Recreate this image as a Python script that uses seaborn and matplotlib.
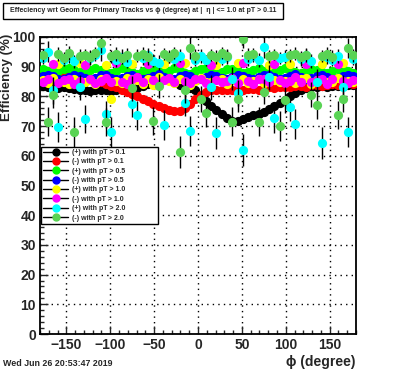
import numpy as np
import pandas as pd
import seaborn as sns
import matplotlib.pyplot as plt
from matplotlib.lines import Line2D
from matplotlib.patches import Rectangle
from matplotlib.ticker import MultipleLocator

# bin centres in phi (degree)
phi = list(range(-177, 180, 6))

labels = ['(+) with pT > 0.1', '(-) with pT > 0.1', '(+) with pT > 0.5', '(-) with pT > 0.5',
          '(+) with pT > 1.0', '(-) with pT > 1.0', '(+) with pT > 2.0', '(-) with pT > 2.0']
colors = ['#000000', '#ff0000', '#00ff00', '#0000ff', '#ffff00', '#ff00ff', '#00ffff', '#59d354']

eff_pos_01 = [83.5, 83.2, 83.0, 82.8, 83.1, 82.9, 82.5, 82.2, 82.0, 81.8,
              82.0, 82.3, 82.1, 81.8, 82.0, 82.4, 82.8, 82.5, 82.9, 83.5,
              84.3, 85.0, 85.8, 86.3, 86.0, 85.2, 84.0, 83.3, 82.8, 82.0,
              80.0, 78.3, 76.8, 75.4, 74.0, 72.8, 71.8, 71.6, 72.3, 73.0,
              73.6, 74.2, 74.8, 75.6, 76.6, 77.8, 78.8, 80.0, 81.3, 82.3,
              82.8, 83.0, 83.2, 83.4, 83.3, 83.5, 83.6, 83.4, 83.7, 83.8]
eff_neg_01 = [85.8, 86.0, 86.3, 86.8, 87.0, 87.2, 87.0, 86.8, 86.5, 86.0,
              85.5, 84.9, 84.3, 83.6, 83.0, 82.3, 81.6, 80.8, 80.0, 79.2,
              78.3, 77.5, 76.8, 76.1, 75.5, 75.0, 75.2, 76.0, 77.5, 79.2,
              80.6, 81.5, 82.0, 82.1, 82.2, 82.0, 82.3, 82.5, 82.2, 82.4,
              82.6, 82.3, 82.8, 83.0, 82.7, 83.1, 83.3, 83.0, 83.4, 83.6,
              83.3, 83.7, 83.9, 83.6, 84.0, 84.2, 84.0, 84.3, 84.5, 84.3]
eff_pos_05 = [89.2, 88.7, 88.0, 88.4, 89.3, 89.6, 88.9, 88.1, 87.9, 88.8,
              89.5, 89.0, 88.2, 87.8, 88.6, 89.4, 89.1, 88.3, 87.7, 88.5,
              89.3, 89.2, 88.4, 87.9, 88.7, 89.5, 88.8, 88.0, 87.6, 88.4,
              89.2, 89.4, 88.6, 87.9, 88.3, 89.1, 89.3, 88.5, 87.8, 88.2,
              89.0, 89.5, 88.7, 88.0, 88.1, 88.9, 89.4, 88.8, 88.1, 87.9,
              88.7, 89.3, 89.0, 88.2, 87.8, 88.6, 89.2, 89.1, 88.4, 88.0]
eff_neg_05 = [86.8, 87.3, 86.9, 86.0, 85.7, 86.4, 87.2, 87.0, 86.1, 85.6,
              86.3, 87.1, 87.2, 86.3, 85.8, 86.2, 87.0, 87.3, 86.5, 85.9,
              86.1, 86.9, 87.4, 86.7, 85.9, 86.0, 86.8, 87.3, 86.8, 86.0,
              85.8, 86.6, 87.2, 86.9, 86.1, 85.7, 86.5, 87.3, 87.0, 86.2,
              85.8, 86.4, 87.1, 87.2, 86.4, 85.9, 86.3, 87.0, 87.4, 86.6,
              85.9, 86.2, 86.9, 87.3, 86.7, 86.0, 86.1, 86.8, 87.2, 86.9]
eff_pos_10 = [85.4, 84.6, 86.2, 90.8, 85.0, 84.3, 85.8, 91.2, 84.9, 85.6,
              84.1, 86.0, 90.6, 79.0, 85.2, 84.4, 86.3, 91.0, 85.5, 84.2,
              85.9, 83.8, 86.4, 90.9, 85.1, 84.5, 85.7, 91.3, 84.0, 85.3,
              86.1, 84.7, 85.0, 90.7, 85.8, 84.3, 85.4, 91.1, 85.9, 84.6,
              85.2, 86.0, 84.4, 90.5, 85.6, 84.8, 85.3, 91.0, 84.5, 85.9,
              86.2, 84.1, 85.5, 90.8, 85.0, 84.7, 86.1, 91.2, 85.3, 84.9]
eff_neg_10 = [84.9, 85.8, 91.0, 84.5, 85.5, 86.0, 84.2, 85.1, 90.7, 85.7,
              84.6, 85.3, 86.1, 84.8, 91.2, 85.0, 84.3, 85.9, 86.4, 84.7,
              90.9, 85.4, 84.1, 85.6, 86.2, 84.9, 91.1, 85.2, 84.5, 85.8,
              86.0, 84.4, 90.6, 85.5, 84.8, 85.1, 86.3, 84.6, 91.3, 85.3,
              84.2, 85.7, 86.0, 84.9, 90.8, 85.6, 84.4, 85.2, 86.4, 85.0,
              91.0, 84.7, 85.4, 85.9, 84.3, 85.8, 90.9, 85.1, 84.6, 85.5]
eff_pos_20 = [93.0, 95.0, 82.0, 69.7, 92.4, 93.6, 91.8, 83.0, 72.4, 92.9,
              93.8, 95.6, 74.0, 68.0, 92.2, 93.4, 91.5, 77.4, 73.7, 92.8,
              93.9, 92.0, 91.4, 70.4, 93.1, 92.6, 93.7, 77.8, 68.4, 92.3,
              93.5, 92.1, 83.0, 67.7, 92.7, 93.3, 86.0, 81.0, 62.0, 92.5,
              93.6, 92.2, 96.6, 86.5, 72.7, 92.9, 93.4, 76.4, 70.7, 92.6,
              93.8, 92.0, 85.0, 64.3, 93.2, 92.4, 93.5, 83.0, 68.0, 92.7]
eff_neg_20 = [93.8, 71.4, 80.5, 94.2, 93.0, 94.5, 68.0, 93.6, 94.1, 93.2,
              94.6, 98.0, 71.4, 93.5, 94.3, 92.9, 94.0, 82.8, 93.7, 94.4,
              93.1, 71.7, 83.5, 94.2, 93.4, 94.7, 61.3, 82.0, 96.3, 93.6,
              79.0, 74.4, 94.0, 93.3, 94.5, 93.7, 71.5, 79.0, 99.3, 93.9,
              94.3, 71.4, 81.5, 93.5, 94.1, 70.0, 78.8, 93.8, 94.4, 93.2,
              94.0, 80.5, 77.0, 93.6, 94.2, 93.4, 73.7, 79.0, 96.3, 93.9]

err_pos_20 = [2.2, 3.5, 4.5, 5.0, 2.0, 2.4, 2.1, 4.2, 4.8, 2.3,
              2.0, 3.8, 4.6, 5.2, 2.2, 2.5, 2.0, 4.4, 4.9, 2.1,
              2.3, 2.2, 2.4, 5.0, 2.0, 2.3, 2.1, 4.5, 5.1, 2.2,
              2.4, 2.0, 4.3, 5.3, 2.1, 2.3, 4.0, 4.4, 5.5, 2.2,
              2.0, 2.4, 3.6, 4.2, 4.9, 2.1, 2.3, 4.6, 5.0, 2.2,
              2.0, 2.3, 4.1, 5.4, 2.2, 2.1, 2.4, 4.3, 5.1, 2.0]
err_neg_20 = [2.1, 4.9, 4.3, 2.3, 2.0, 2.4, 5.1, 2.2, 2.0, 2.3,
              2.1, 3.4, 4.8, 2.2, 2.4, 2.0, 2.3, 4.2, 2.1, 2.2,
              2.4, 4.7, 4.0, 2.1, 2.3, 2.0, 5.4, 4.3, 3.6, 2.2,
              4.4, 4.6, 2.1, 2.3, 2.0, 2.2, 4.8, 4.1, 3.0, 2.4,
              2.1, 4.9, 4.2, 2.2, 2.0, 5.0, 4.3, 2.3, 2.1, 2.2,
              2.4, 4.2, 4.5, 2.0, 2.3, 2.1, 4.7, 4.2, 3.5, 2.2]

series = [eff_pos_01, eff_neg_01, eff_pos_05, eff_neg_05,
          eff_pos_10, eff_neg_10, eff_pos_20, eff_neg_20]
errors = [0.3, 0.3, 0.6, 0.6, 1.2, 1.2, err_pos_20, err_neg_20]

sns.set_style("ticks")
plt.rcParams['font.family'] = ['Liberation Sans', 'DejaVu Sans']
plt.rcParams['font.weight'] = 'bold'

fig = plt.figure(figsize=(3.96, 3.72), dpi=100)
ax = fig.add_axes([40/396, 38/372, 316/396, 297/372])

for i, (vals, err) in enumerate(zip(series, errors)):
    ax.errorbar(phi, vals, yerr=err, fmt='none', ecolor='black', elinewidth=1, zorder=3 + 2*i)
    sns.scatterplot(x=phi, y=vals, color=colors[i], s=44, linewidth=0, ax=ax,
                    zorder=4 + 2*i, legend=False)

ax.set_xlim(-180, 180)
ax.set_ylim(0, 100)
ax.xaxis.set_major_locator(MultipleLocator(50))
ax.xaxis.set_minor_locator(MultipleLocator(10))
ax.yaxis.set_major_locator(MultipleLocator(10))
ax.yaxis.set_minor_locator(MultipleLocator(2))
ax.grid(True, which='major', linestyle=(0, (1, 3)), color='black', linewidth=1)
ax.set_axisbelow(True)
ax.tick_params(which='both', direction='in', top=False, right=False, width=1)
ax.tick_params(which='major', length=6, labelsize=10, pad=3)
ax.tick_params(which='minor', length=3)
for lab in ax.get_xticklabels() + ax.get_yticklabels():
    lab.set_fontweight('bold')
for sp in ax.spines.values():
    sp.set_linewidth(1.3)
    sp.set_color('black')
ax.set_xlabel('')
ax.set_ylabel('')

handles = [Line2D([0], [0], color='black', lw=1, marker='o', markersize=5,
                  markerfacecolor=c, markeredgecolor=c) for c in colors]
leg = ax.legend(handles, labels, loc='upper left', bbox_to_anchor=(0.003, 0.374, 0.37, 0.256),
                mode='expand', borderaxespad=0, prop={'size': 5, 'weight': 'bold'},
                frameon=True, fancybox=False, framealpha=1, edgecolor='black',
                handlelength=3.6, handletextpad=0.6, labelspacing=0.34, borderpad=0.3)
leg.get_frame().set_linewidth(1)
leg.set_zorder(30)

# title box
fig.patches.append(Rectangle((3/396, 1 - 19/372), 280/396, 16/372, transform=fig.transFigure,
                             facecolor='white', edgecolor='black', linewidth=1))
fig.text(10/396, 1 - 11/372,
         'Effeciency wrt Geom for Primary Tracks vs \u03d5 (degree) at |  \u03b7 | <= 1.0 at pT > 0.11',
         ha='left', va='center', fontsize=5, fontweight='bold')

fig.text(7/396, 1 - 34/372, 'Efficiency (%)', rotation=90, ha='center', va='top',
         fontsize=9.5, fontweight='bold')
fig.text(355/396, 1 - 362/372, '\u03d5 (degree)', ha='right', va='center',
         fontsize=10, fontweight='bold')
fig.text(3/396, 1 - 363/372, 'Wed Jun 26 20:53:47 2019', ha='left', va='center',
         fontsize=6.4, fontweight='bold')

fig.savefig('out.png', dpi=100)
